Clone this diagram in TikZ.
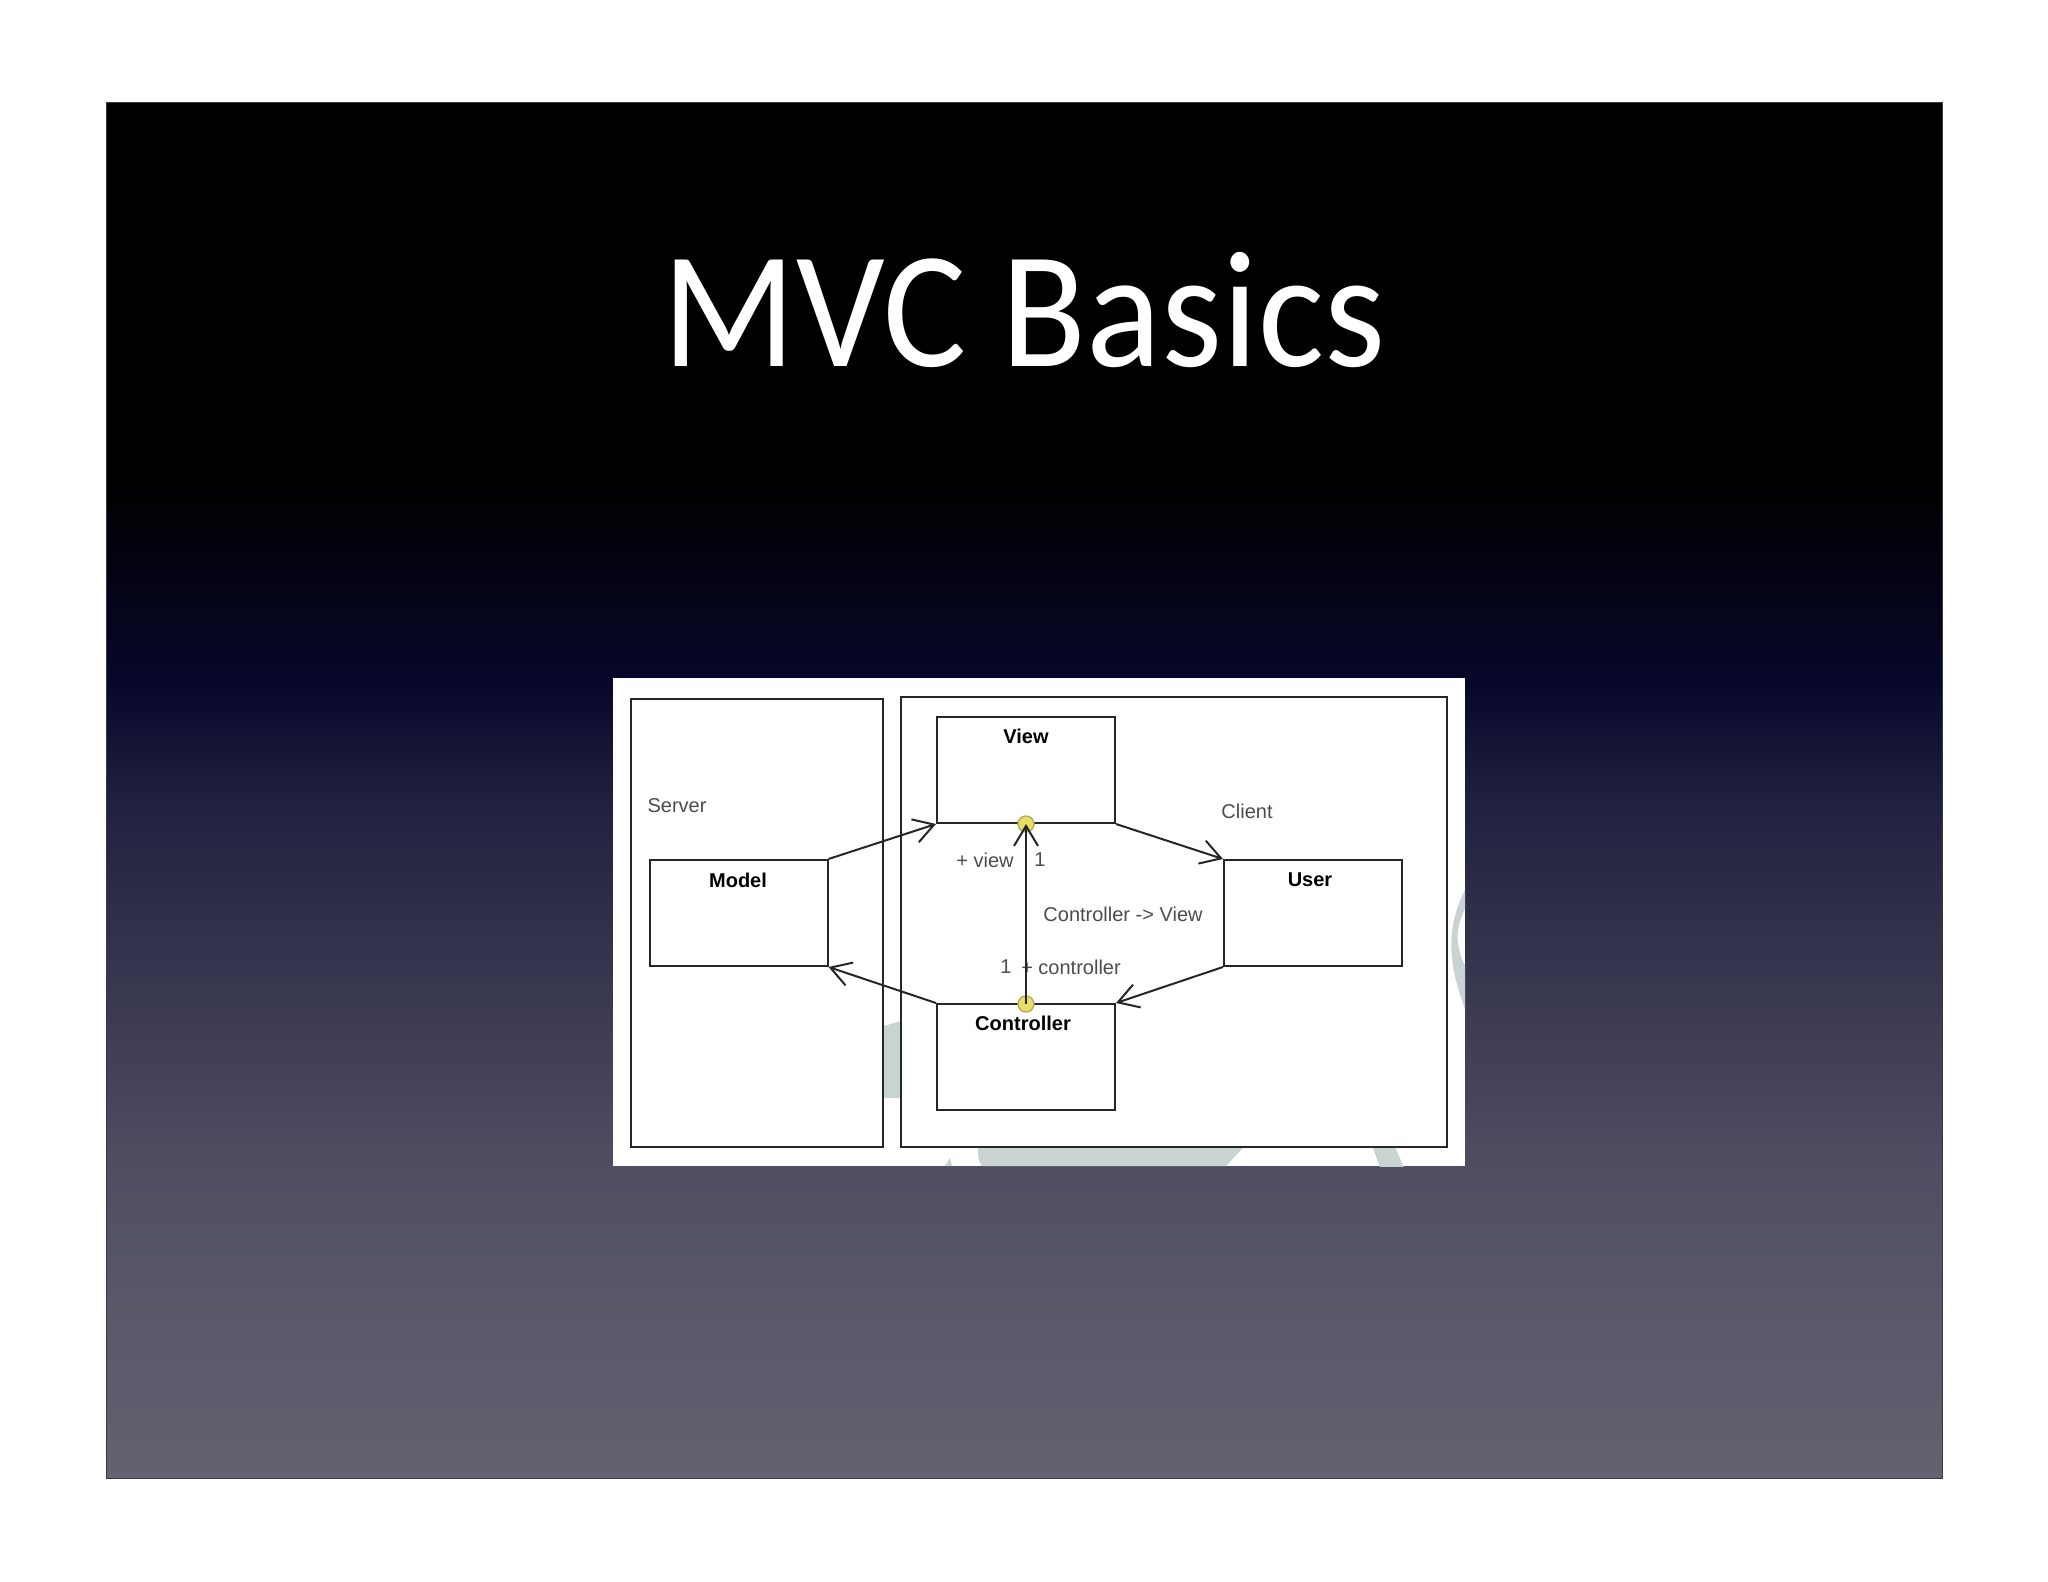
\documentclass[tikz,border=0pt]{standalone}
\usepackage{fontspec}
\setmainfont{Liberation Sans}
\newfontfamily\titlefont{Carlito}
\usetikzlibrary{arrows.meta}

\definecolor{wmark}{HTML}{C9D3D1}
\definecolor{dotfill}{HTML}{E8DC6A}
\definecolor{dotdraw}{HTML}{B5AE55}
\definecolor{slideedge}{HTML}{3A3A46}
\definecolor{slidebot}{HTML}{646270}
\definecolor{slidemid}{HTML}{504E62}
\definecolor{slidelow}{HTML}{20213F}
\definecolor{slidenavy}{HTML}{07072A}
\pgfdeclareverticalshading{slidebg}{100bp}{
   color(0bp)=(slidebot); color(25bp)=(slidebot);
   color(36.2bp)=(slidemid); color(49.6bp)=(slidelow);
   color(54bp)=(slidenavy); color(61.3bp)=(black); color(100bp)=(black)}

\begin{document}
\begin{tikzpicture}[x=0.5pt,y=-0.5pt]
   \tikzstyle{framebox}=[draw=black!85, fill=white, line width=1pt, rectangle, inner sep=0pt]
   \tikzstyle{classbox}=[framebox, minimum width=89pt, minimum height=53pt]
   \tikzstyle{classname}=[inner sep=0pt, text=black, font=\fontsize{10}{12}\selectfont\bfseries]
   \tikzstyle{plainlabel}=[inner sep=0pt, text=black!70, font=\fontsize{10}{12}\selectfont]
   \tikzstyle{assoc}=[draw=black!85, line width=1pt, -{Straight Barb[length=10pt,width=12pt]}]
   \tikzstyle{enddot}=[circle, draw=dotdraw, fill=dotfill, line width=0.7pt, minimum size=8pt, inner sep=0pt]

\useasboundingbox (0,0) rectangle (2048,1582);
\path[shading=slidebg, draw=slideedge, line width=0.5pt] (106,103) rectangle (1942,1478);
\node[text=white, inner sep=0pt, xscale=0.94, font=\fontsize{83}{95}\selectfont\titlefont] (title) at (1024,310) {MVC Basics};

% screenshot panel
\fill[white] (613,678) rectangle (1465,1166);
\begin{scope}
   \clip (613,678) rectangle (1465,1166);
   \fill[wmark] (884,1026) -- (901,1021) -- (901,1098) -- (884,1098) -- cycle;
   \fill[wmark] (978,1140) -- (1250,1140) -- (1226,1166) -- (982,1166) .. controls (978,1160) .. (978,1140) -- cycle;
   \fill[wmark] (1370,1140) -- (1392,1140) -- (1405,1170) -- (1381,1170) -- cycle;
   \fill[wmark] (945,1166) -- (950,1158) -- (952,1166) -- cycle;
   \fill[wmark] (1470,880) .. controls (1445,925) and (1445,960) .. (1470,1022)
      -- (1470,975) .. controls (1452,945) and (1455,925) .. (1470,900) -- cycle;
\end{scope}

\node[framebox, minimum width=126pt, minimum height=224pt] (server) at (757,923) {};
\node[framebox, minimum width=273pt, minimum height=225pt] (client) at (1174,922) {};

\node[classbox] (view) at (1026,770) {};
\node[classbox] (model) at (738.5,913) {};
\node[classbox] (user) at (1313,913) {};
\node[classbox] (controller) at (1026,1057) {};

\node[classname] (viewname) at (1026,736) {View};
\node[classname] (modelname) at (738,880) {Model};
\node[classname] (username) at (1310,880) {User};
\node[classname] (controllername) at (1023,1023) {Controller};

\node[plainlabel] (serverlabel) at (677,806) {Server};
\node[plainlabel] (clientlabel) at (1247,811) {Client};
\node[plainlabel] (viewrole) at (985,860) {+ view};
\node[plainlabel] (viewmult) at (1040,860) {1};
\node[plainlabel] (note) at (1123,914) {Controller -> View};
\node[plainlabel] (ctrlmult) at (1006,967) {1};
\node[plainlabel] (ctrlrole) at (1071,967) {+ controller};

\node[enddot] (viewdot) at (1026,824) {};
\node[enddot] (ctrldot) at (1026,1004) {};

\draw[assoc] (model.north east) -- (view.south west);
\draw[assoc] (view.south east) -- (user.north west);
\draw[assoc] (user.south west) -- (controller.north east);
\draw[assoc] (controller.north west) -- (model.south east);
\draw[assoc] (ctrldot.center) -- (viewdot.center);

\end{tikzpicture}
\end{document}
